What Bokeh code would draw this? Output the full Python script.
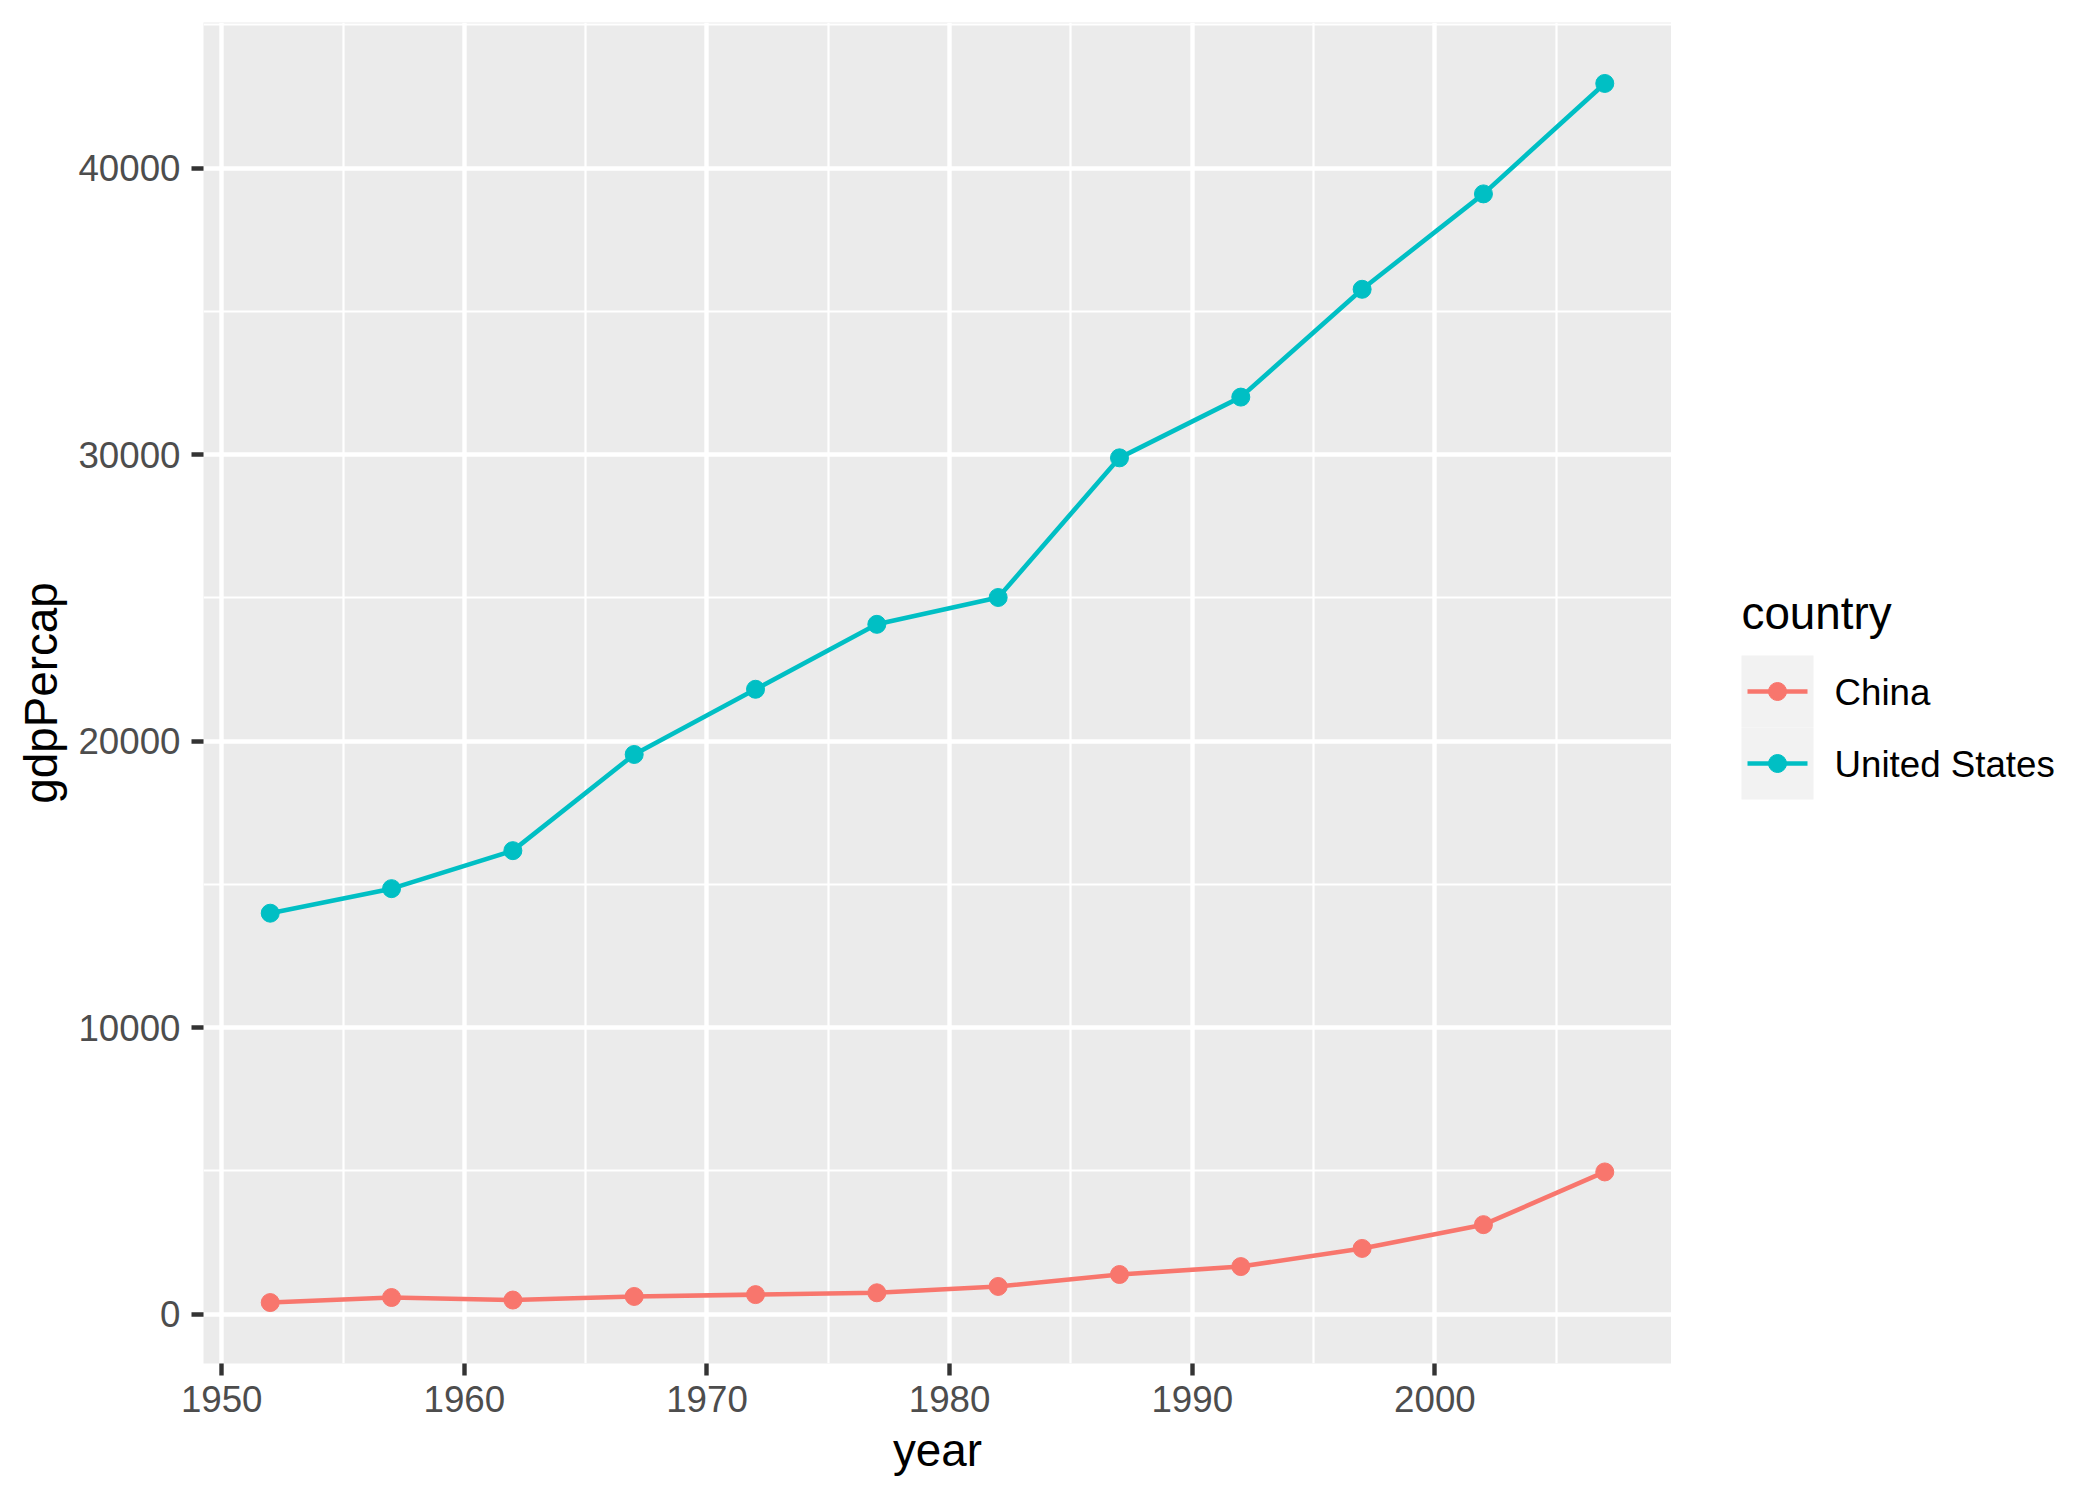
from bokeh.plotting import figure
from bokeh.layouts import row
from bokeh.models import Range1d, FixedTicker, BasicTickFormatter
from bokeh.core.properties import value
from bokeh.embed import file_html
from bokeh.resources import INLINE

# ---- data ----
years = [1952, 1957, 1962, 1967, 1972, 1977, 1982, 1987, 1992, 1997, 2002, 2007]
china = [400.4, 576.0, 487.7, 612.7, 676.9, 741.2, 962.4, 1378.9, 1655.8, 2289.2, 3119.3, 4959.1]
united_states = [13990.5, 14847.1, 16173.1, 19530.4, 21806.0, 24072.6, 25009.6,
                 29884.4, 32003.9, 35767.4, 39097.1, 42951.7]
countries = ["China", "United States"]
colors = ["#F8766D", "#00BFC4"]
x_ticks = [1950, 1960, 1970, 1980, 1990, 2000]
x_minor = [1955, 1965, 1975, 1985, 1995, 2005]
y_ticks = [0, 10000, 20000, 30000, 40000]
y_minor = [5000, 15000, 25000, 35000, 45000]

FONT = value("Liberation Sans")
series = [china, united_states]

# ggplot-like expansion (5%)
allv = china + united_states
ylo, yhi = min(allv), max(allv)
ypad = (yhi - ylo) * 0.05
xlo, xhi = min(years), max(years)
xpad = (xhi - xlo) * 0.05

TOP, FH, BOT, LEFT, FW = 22, 1341, 130, 203, 1468

p = figure(frame_width=FW, frame_height=FH,
           min_border_left=LEFT, min_border_right=0, min_border_top=TOP, min_border_bottom=BOT,
           x_range=Range1d(xlo - xpad, xhi + xpad), y_range=Range1d(ylo - ypad, yhi + ypad),
           output_backend="svg", toolbar_location=None,
           background_fill_color="#EBEBEB", border_fill_color="white",
           outline_line_color=None)

for vals, col in zip(series, colors):
    p.line(years, vals, line_color=col, line_width=4.6)
    p.scatter(years, vals, size=18, fill_color=col, line_color=col)

p.xaxis.ticker = FixedTicker(ticks=x_ticks, minor_ticks=x_minor)
p.yaxis.ticker = FixedTicker(ticks=y_ticks, minor_ticks=y_minor)
p.yaxis.formatter = BasicTickFormatter(use_scientific=False)

for g in (p.xgrid, p.ygrid):
    g.grid_line_color = "white"
    g.grid_line_width = 4.4
    g.minor_grid_line_color = "white"
    g.minor_grid_line_width = 2.2

for ax in (p.xaxis, p.yaxis):
    ax.axis_line_color = None
    ax.major_tick_line_color = "#333333"
    ax.major_tick_line_width = 4.4
    ax.major_tick_out = 12
    ax.major_tick_in = 0
    ax.minor_tick_line_color = None
    ax.major_label_text_font = "Liberation Sans"
    ax.major_label_text_font_size = "36.7px"
    ax.major_label_text_color = "#4D4D4D"
    ax.axis_label_text_font = "Liberation Sans"
    ax.axis_label_text_font_size = "45.8px"
    ax.axis_label_text_font_style = "normal"
    ax.axis_label_text_color = "black"

p.xaxis.axis_label = "year"
p.yaxis.axis_label = "gdpPercap"
p.xaxis.major_label_standoff = 10
p.xaxis.axis_label_standoff = 10
p.yaxis.major_label_standoff = 11
p.yaxis.axis_label_standoff = 8

# ---- legend panel (coordinates in page pixels) ----
LX0, LX1 = LEFT + FW, 2100
lg = figure(frame_width=LX1 - LX0, frame_height=FH,
            min_border_left=0, min_border_right=0, min_border_top=TOP, min_border_bottom=BOT,
            x_range=Range1d(LX0, LX1), y_range=Range1d(TOP + FH, TOP),
            toolbar_location=None, output_backend="svg",
            outline_line_color=None, x_axis_location=None, y_axis_location=None,
            background_fill_color="white", border_fill_color="white")
lg.grid.visible = False

key_x0, key_w, key_h, key_top = 1741, 72, 72, 655
lg.text(x=[key_x0], y=[613], text=["country"], text_font=FONT, text_font_size="45.8px",
        text_color="black", text_baseline="middle", text_align="left")
for i, (name, col) in enumerate(zip(countries, colors)):
    cy = key_top + key_h * (i + 0.5)
    lg.rect(x=[key_x0 + key_w / 2], y=[cy], width=key_w, height=key_h,
            fill_color="#F2F2F2", line_color=None)
    lg.line([key_x0 + 6, key_x0 + key_w - 6], [cy, cy], line_color=col, line_width=4.6)
    lg.scatter([key_x0 + key_w / 2], [cy], size=18, fill_color=col, line_color=col)
    lg.text(x=[key_x0 + key_w + 21], y=[cy + 1], text=[name], text_font=FONT,
            text_font_size="36.7px", text_color="black", text_baseline="middle",
            text_align="left")

layout = row(p, lg)
open("out.html", "w").write(file_html(layout, INLINE))
